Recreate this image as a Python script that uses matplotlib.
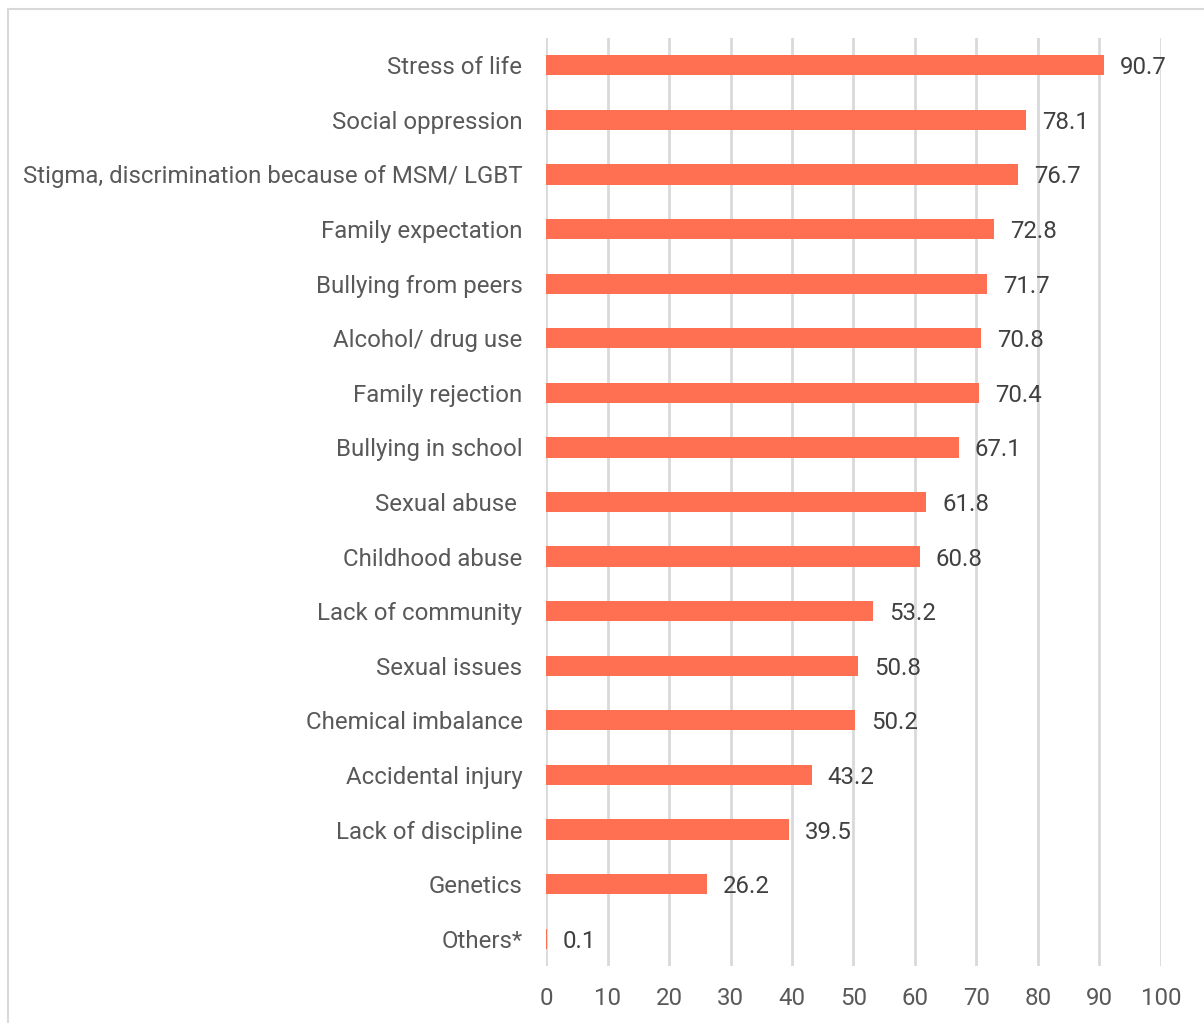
import matplotlib.pyplot as plt
import matplotlib.patches as mpatches
import numpy as np

plt.rcParams['font.family'] = ['Roboto', 'DejaVu Sans']

# Datos del grafico (de arriba hacia abajo)
categorias = ['Stress of life', 'Social oppression',
              'Stigma, discrimination because of MSM/ LGBT', 'Family expectation',
              'Bullying from peers', 'Alcohol/ drug use', 'Family rejection',
              'Bullying in school', 'Sexual abuse ', 'Childhood abuse',
              'Lack of community', 'Sexual issues', 'Chemical imbalance',
              'Accidental injury', 'Lack of discipline', 'Genetics', 'Others*']
valores = [90.7, 78.1, 76.7, 72.8, 71.7, 70.8, 70.4, 67.1, 61.8, 60.8,
           53.2, 50.8, 50.2, 43.2, 39.5, 26.2, 0.1]
ticks_x = [0, 10, 20, 30, 40, 50, 60, 70, 80, 90, 100]

fs = 17.3
fig = plt.figure(figsize=(12.04, 10.23), dpi=100)
ax = fig.add_axes([546 / 1204, 1 - 966 / 1023, 615 / 1204, 928 / 1023])

y = np.arange(len(categorias))
ax.barh(y, valores, height=0.37, color='#FF7052', zorder=3)
for yi, v in zip(y, valores):
    ax.text(v + 2.6, yi, f'{v}', va='center_baseline', ha='left', fontsize=fs,
            color='#404040', zorder=4)

ax.set_yticks(y)
ax.set_yticklabels(categorias, fontsize=fs, color='#595959')
ax.set_ylim(len(categorias) - 0.5, -0.5)
ax.set_xlim(0, 100)
ax.set_xticks(ticks_x)
ax.set_xticklabels([str(t) for t in ticks_x], fontsize=fs, color='#595959')
ax.tick_params(axis='y', length=0, pad=17)
ax.tick_params(axis='x', length=0, pad=15)
ax.grid(axis='x', color='#d9d9d9', linewidth=2, zorder=0)
for s in ax.spines.values():
    s.set_visible(False)

# Borde del area del grafico
borde = mpatches.Rectangle((8 / 1204, -0.05), 1.2, 1 - 9 / 1023 + 0.05,
                           transform=fig.transFigure, fill=False,
                           edgecolor='#d9d9d9', linewidth=1.5)
fig.patches.append(borde)

fig.savefig('out.png', dpi=100)
